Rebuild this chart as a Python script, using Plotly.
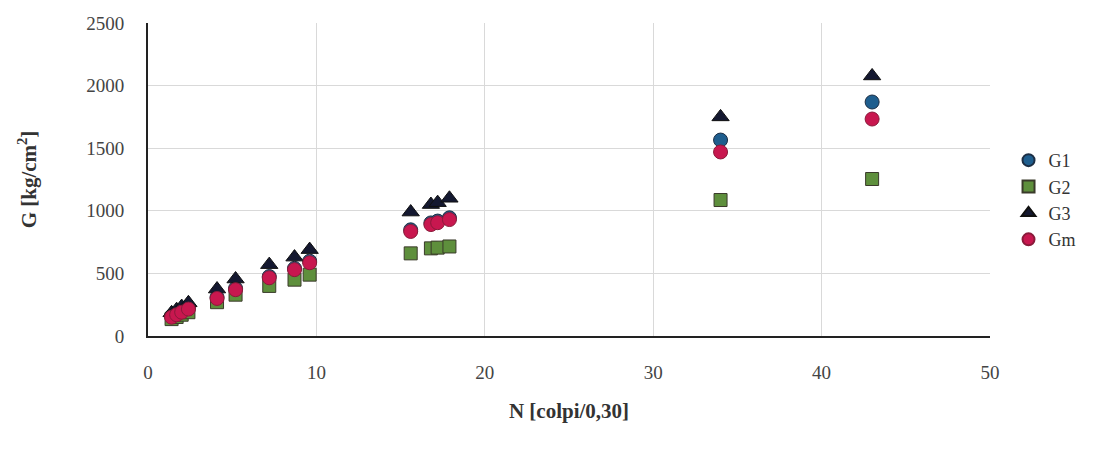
import plotly.graph_objects as go

N = [1.4, 1.7, 2.0, 2.4, 4.1, 5.2, 7.2, 8.7, 9.6, 15.6, 16.8, 17.2, 17.9, 34, 43]
G1 = [160, 180, 200, 225, 310, 380, 475, 540, 598, 848, 903, 918, 944, 1565, 1869]
G2 = [135, 152, 170, 190, 270, 330, 400, 450, 490, 660, 700, 706, 715, 1086, 1254]
G3 = [185, 210, 235, 265, 375, 455, 570, 630, 690, 990, 1050, 1065, 1100, 1750, 2077]
Gm = [150, 170, 190, 215, 300, 370, 465, 530, 585, 835, 890, 905, 930, 1470, 1733]

FONT = "Liberation Serif"

fig = go.Figure()
fig.add_trace(go.Scatter(x=N, y=G1, mode="markers", name="G1",
                         marker=dict(symbol="circle", size=14, color="#1f5e8e",
                                     line=dict(color="#1c2e44", width=1))))
fig.add_trace(go.Scatter(x=N, y=G2, mode="markers", name="G2",
                         marker=dict(symbol="square", size=13, color="#5e8f3c",
                                     line=dict(color="#3a3a2a", width=1))))
fig.add_trace(go.Scatter(x=N, y=G3, mode="markers", name="G3",
                         marker=dict(symbol="triangle-up", size=15, color="#141830",
                                     line=dict(color="#101010", width=1))))
fig.add_trace(go.Scatter(x=N, y=Gm, mode="markers", name="Gm",
                         marker=dict(symbol="circle", size=14, color="#c8174f",
                                     line=dict(color="#8a1a3a", width=1))))

fig.update_layout(
    width=1113, height=450,
    margin=dict(l=148, r=123, t=23, b=114),
    paper_bgcolor="white", plot_bgcolor="white",
    font=dict(family=FONT, size=16, color="#444"),
    showlegend=True,
    legend=dict(x=1.022, y=0.62, xanchor="left", yanchor="top",
                font=dict(family=FONT, size=18, color="#333"),
                itemsizing="constant", tracegroupgap=10),
    xaxis=dict(range=[0, 50], dtick=10, showgrid=True, gridcolor="#d9d9d9", gridwidth=1,
               showline=True, linecolor="#222", linewidth=2, zeroline=False,
               ticks="", ticklabelstandoff=18,
               tickfont=dict(family=FONT, size=19, color="#444"),
               title=dict(text="<b>N [colpi/0,30]</b>", font=dict(family=FONT, size=21, color="#333"),
                          standoff=22)),
    yaxis=dict(range=[0, 2500], dtick=500, showgrid=True, gridcolor="#d9d9d9", gridwidth=1,
               showline=True, linecolor="#222", linewidth=2, zeroline=False,
               ticks="", ticklabelstandoff=18,
               tickfont=dict(family=FONT, size=19, color="#444"),
               title=dict(text="<b>G [kg/cm<sup>2</sup>]</b>", font=dict(family=FONT, size=21, color="#333"),
                          standoff=44)),
)

fig.write_html("out.html")
